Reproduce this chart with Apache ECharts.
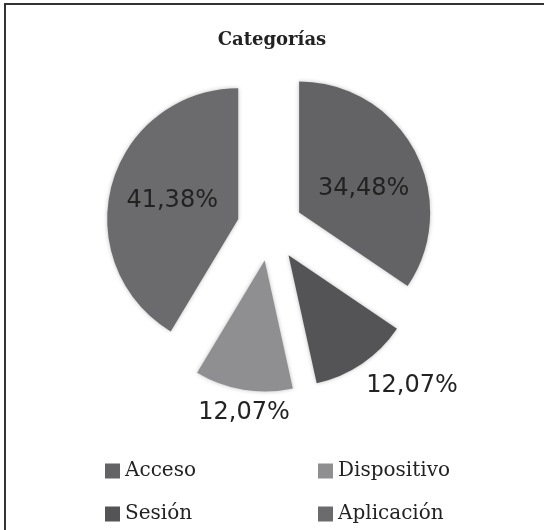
<!DOCTYPE html>
<html>
<head>
<meta charset="utf-8">
<script src="https://cdn.jsdelivr.net/npm/echarts@6/dist/echarts.min.js"></script>
<style>html,body{margin:0;padding:0;background:#fff;}#c{width:544px;height:530px;}</style>
</head>
<body>
<div id="c"></div>
<script>
var categories = ['Acceso', 'Sesión', 'Dispositivo', 'Aplicación'];
var values = [34.48, 12.07, 12.07, 41.38];
var colors = ['#636366', '#545457', '#8f8f92', '#6b6b6e'];
var legendOrder = ['Acceso', 'Dispositivo', 'Sesión', 'Aplicación'];

function fmt(v) { return v.toFixed(2).replace('.', ',') + '%'; }

var labelCfg = [
  { position: 'inside' },
  { position: 'outside', distanceToLabelLine: -11, line: { length: 27, length2: 0 } },
  { position: 'outside', distanceToLabelLine: -50, line: { length: 23, length2: 0 } },
  { position: 'inside' }
];

var seriesData = categories.map(function (name, i) {
  var cfg = labelCfg[i];
  var item = {
    name: name,
    value: values[i],
    selected: true,
    itemStyle: { color: colors[i] },
    label: { position: cfg.position }
  };
  if (cfg.line) {
    item.label.distanceToLabelLine = cfg.distanceToLabelLine;
    item.labelLine = { show: false, length: cfg.line.length, length2: cfg.line.length2 };
  }
  return item;
});

var legendText = { fontFamily: 'DejaVu Serif', fontSize: 20, color: '#222' };
var legends = legendOrder.map(function (name, i) {
  return {
    data: [name],
    left: (i % 2 === 0) ? 100 : 313,
    top: (i < 2) ? 456 : 499,
    icon: 'rect',
    itemWidth: 15,
    itemHeight: 15,
    textStyle: legendText,
    selectedMode: false
  };
});

var chart = echarts.init(document.getElementById('c'), null, { renderer: 'canvas' });
chart.setOption({
  animation: false,
  backgroundColor: '#fff',
  title: {
    text: 'Categorías',
    left: 'center',
    top: 26,
    textStyle: { fontFamily: 'DejaVu Serif', fontWeight: 'bold', fontSize: 18, color: '#222' }
  },
  graphic: [{
    type: 'rect',
    shape: { x: 5, y: 4, width: 620, height: 620 },
    style: { fill: 'none', stroke: '#333', lineWidth: 2 },
    silent: true
  }],
  legend: legends,
  series: [{
    type: 'pie',
    center: [270, 228],
    radius: [0, 131],
    startAngle: 90,
    clockwise: true,
    selectedMode: 'multiple',
    selectedOffset: 33,
    avoidLabelOverlap: false,
    emphasis: { disabled: true },
    itemStyle: { shadowBlur: 4, shadowColor: 'rgba(0,0,0,0.25)' },
    label: {
      show: true,
      formatter: function (p) { return fmt(p.value); },
      fontFamily: 'DejaVu Sans',
      fontSize: 24,
      color: '#222'
    },
    labelLine: { show: false },
    labelLayout: function (p) {
      return p.dataIndex === 0 ? { dx: 4, dy: 8 } : {};
    },
    data: seriesData
  }]
});
</script>
</body>
</html>
